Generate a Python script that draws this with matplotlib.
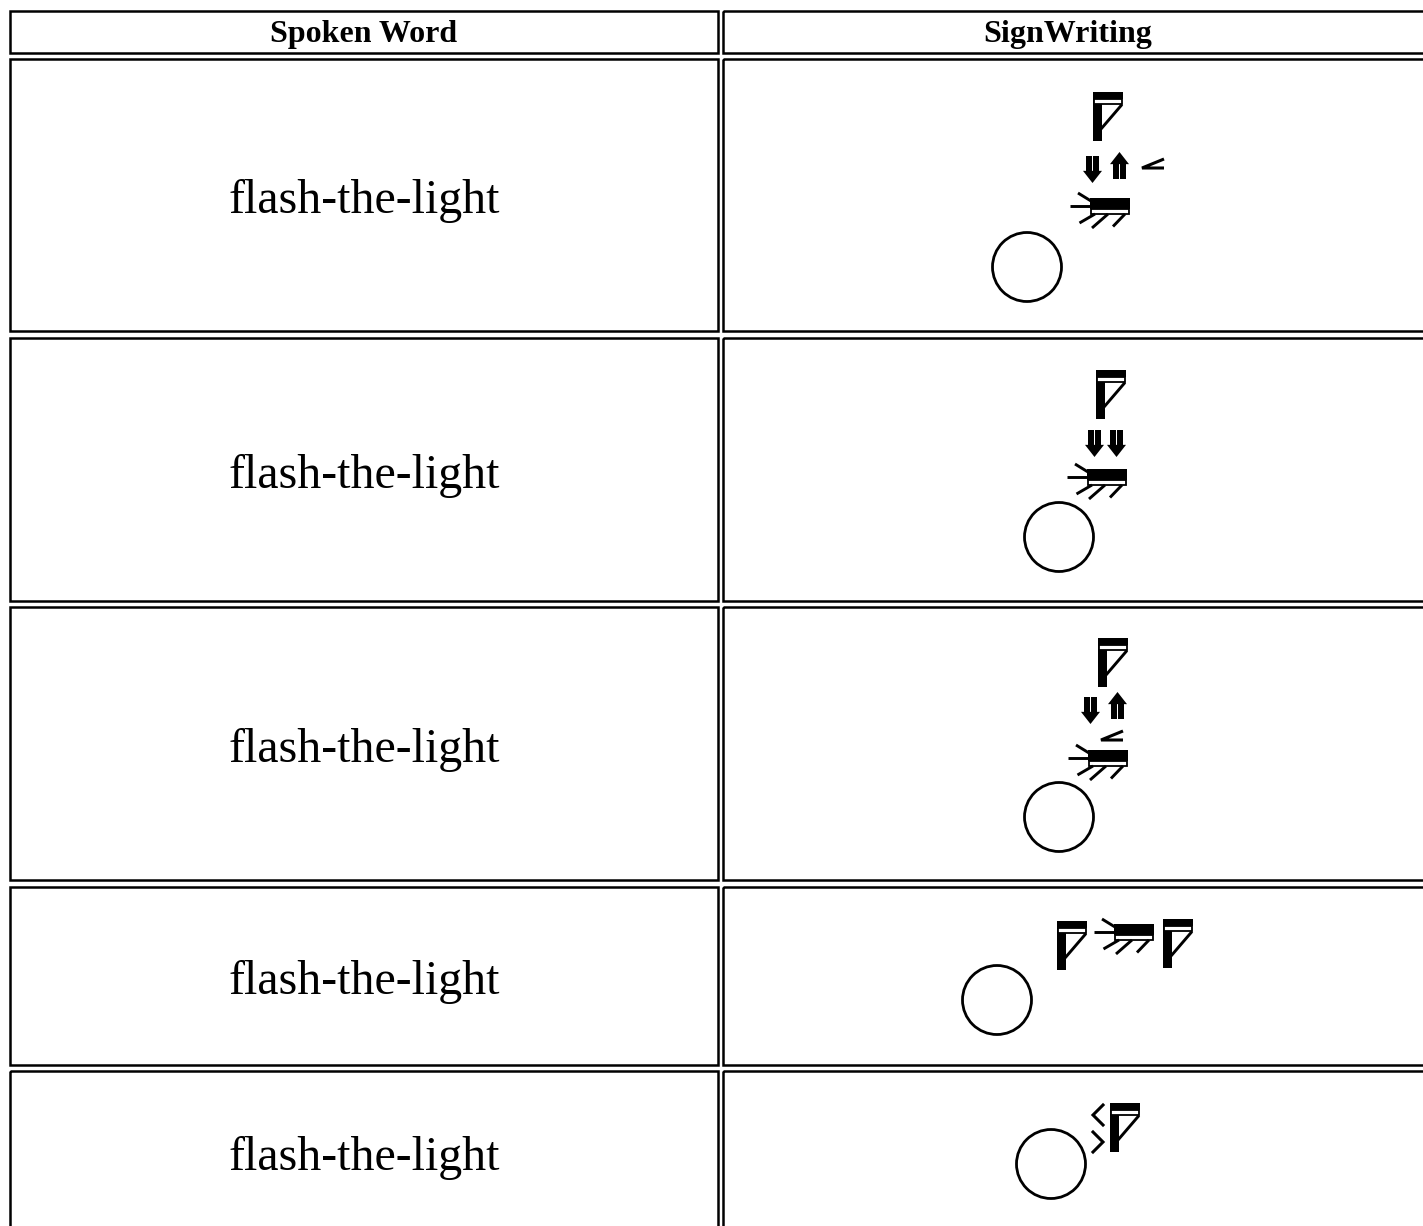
import matplotlib
matplotlib.use('Agg')
import matplotlib.pyplot as plt
from matplotlib.patches import Rectangle, Circle, Polygon

# Table content
headers = ['Spoken Word', 'SignWriting']
words = ['flash-the-light'] * 5

# SignWriting symbols for each row: (symbol, left, top) in pixels
signs = [
    [('palm', 1093, 92), ('down', 1083, 156), ('up', 1110, 152), ('angle', 1142, 159),
     ('hand', 1070, 193), ('head', 1027, 267)],
    [('palm', 1096, 370), ('down', 1085, 430), ('down', 1107, 430),
     ('hand', 1067, 464), ('head', 1059, 537)],
    [('palm', 1098, 638), ('down', 1081, 697), ('up', 1108, 692), ('angle', 1101, 731),
     ('hand', 1068, 745), ('head', 1059, 817)],
    [('palm', 1057, 921), ('hand', 1094, 919), ('palm', 1163, 919), ('head', 997, 1000)],
    [('chev_l', 1093, 1105), ('chev_r', 1093, 1132), ('palm', 1110, 1103), ('head', 1051, 1164)],
]

# layout (pixels)
W, H = 1423, 1226
row_top = [11, 59, 338, 607, 887, 1071]
row_bot = [53, 331, 601, 880, 1065, 1240]
col_left = [9.5, 723]
col_right = [718, 1432]

fig = plt.figure(figsize=(W / 100, H / 100), dpi=100)
ax = fig.add_axes([0, 0, 1, 1])
ax.set_xlim(0, W)
ax.set_ylim(H, 0)
ax.axis('off')

LW = 1.8  # border width in points


def palm(x, y, w=30, h=49):
    ax.add_patch(Rectangle((x, y), 9, h, color='k', lw=0))
    ax.add_patch(Rectangle((x, y), w, 7, color='k', lw=0))
    ax.add_patch(Rectangle((x + 0.8, y + 7), w - 1.6, 5.2, fc='white', ec='k', lw=1.3))
    ax.plot([x + w - 1, x + 8], [y + 12.5, y + 37], color='k', lw=2.1, solid_capstyle='butt')


def hand(x, y):
    ax.add_patch(Rectangle((x + 20, y + 5), 40, 10.5, color='k', lw=0))
    ax.add_patch(Rectangle((x + 20.8, y + 15.5), 38.4, 5.5, fc='white', ec='k', lw=1.3))
    fingers = [((0, 13.3), (20, 13.3)), ((8, 0), (21, 8)),
               ((25, 21), (9.5, 30)), ((38, 21), (22, 35)), ((55, 21), (43, 33.5))]
    for (x0, y0), (x1, y1) in fingers:
        ax.plot([x + x0, x + x1], [y + y0, y + y1], color='k', lw=2.1, solid_capstyle='butt')


def arrow(x, y, up, w=19, h=27):
    hh = 0.45 * h
    sw = 0.3 * w
    gap = 0.08 * w
    sx = x + (w - 2 * sw - gap) / 2
    if up:
        sy, sh = y + hh - 1, h - hh + 1
        tri = [(x, y + hh), (x + w, y + hh), (x + w / 2, y)]
    else:
        sy, sh = y, h - hh + 1
        tri = [(x, y + h - hh), (x + w, y + h - hh), (x + w / 2, y + h)]
    ax.add_patch(Rectangle((sx, sy), sw, sh, color='k', lw=0))
    ax.add_patch(Rectangle((sx + sw + gap, sy), sw, sh, color='k', lw=0))
    ax.add_patch(Polygon(tri, closed=True, color='k', lw=0))


def angle(x, y, w=22, h=9):
    ax.plot([x + w, x, x + w], [y, y + h, y + h], color='k', lw=2.2,
            solid_joinstyle='miter', solid_capstyle='butt')


def chevron(x, y, left, w=10, h=20):
    xs = [x + w, x, x + w] if left else [x, x + w, x]
    ax.plot(xs, [y, y + h / 2, y + h], color='k', lw=2.2, solid_joinstyle='miter')


def head(cx, cy, r=34.5):
    ax.add_patch(Circle((cx, cy), r, fill=False, ec='k', lw=2.0))


draw = {
    'palm': palm,
    'down': lambda x, y: arrow(x, y, False),
    'up': lambda x, y: arrow(x, y, True),
    'angle': angle,
    'hand': hand,
    'chev_l': lambda x, y: chevron(x, y, True),
    'chev_r': lambda x, y: chevron(x, y, False),
    'head': head,
}

# cell borders
for top, bot in zip(row_top, row_bot):
    for l, r in zip(col_left, col_right):
        ax.add_patch(Rectangle((l, top), r - l, bot - top, fill=False, ec='k', lw=LW))

serif = ['Liberation Serif', 'DejaVu Serif']
# header
for i, txt in enumerate(headers):
    cx = (col_left[i] + col_right[i]) / 2 if i == 0 else 1068
    ax.text(cx, row_top[0] + 31, txt, ha='center', va='baseline', fontsize=23,
            fontweight='bold', family=serif)

# body rows
for i, word in enumerate(words):
    top, bot = row_top[i + 1], row_bot[i + 1]
    cy = (top + bot) / 2 if i < 4 else 1152
    ax.text((col_left[0] + col_right[0]) / 2, cy + 18, word, ha='center', va='baseline',
            fontsize=34.5, family=serif)
    for sym, x, y in signs[i]:
        draw[sym](x, y)

fig.savefig('out.png', dpi=100)
